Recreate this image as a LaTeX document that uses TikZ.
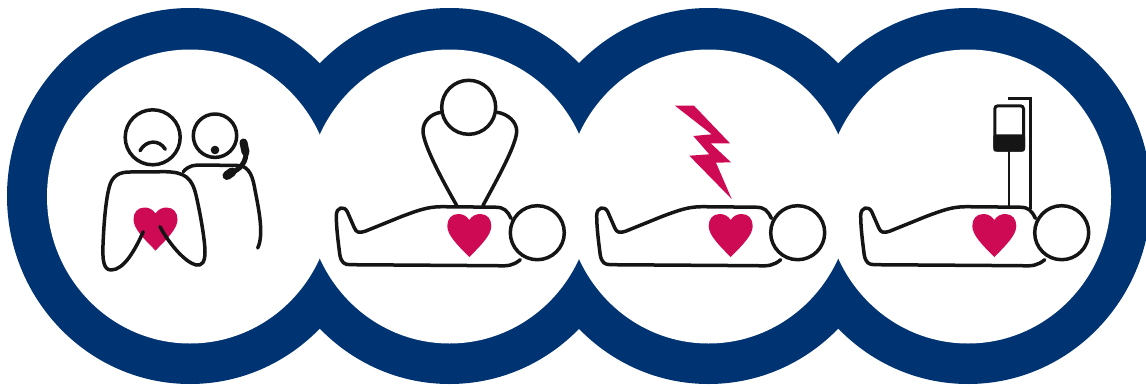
\documentclass[tikz,border=0pt]{standalone}
\definecolor{ringblue}{HTML}{003372}
\definecolor{heartred}{HTML}{CF0A55}
\definecolor{ink}{HTML}{151515}
\tikzset{
  figline/.style={draw=ink,line width=3.5pt,line cap=round,line join=round},
  headfill/.style={figline,fill=white},
  heartshape/.pic={
    \fill[heartred] (0,6) .. controls (3,1.5) and (7,0) .. (11,0)
      .. controls (18,0) and (22,5) .. (22,12)
      .. controls (22,21) and (12,31) .. (0,43)
      .. controls (-12,31) and (-22,21) .. (-22,12)
      .. controls (-22,5) and (-18,0) .. (-11,0)
      .. controls (-7,0) and (-3,1.5) .. (0,6) -- cycle;
  },
  lyingfigure/.pic={
    \draw[figline] (-26.3,-14.3) .. controls (-30,-22) and (-33,-25.5) .. (-42,-25.5)
      -- (-95.7,-26) .. controls (-110,-26) and (-120,-22) .. (-135,-16.5)
      -- (-172,-1.5) .. controls (-178,0.5) and (-181,0) .. (-183,-5)
      -- (-190,-21) .. controls (-193,-27) and (-201,-26) .. (-201,-17)
      .. controls (-201,-5) and (-199,10) .. (-197.5,22)
      .. controls (-196,30) and (-193,32) .. (-187,32)
      -- (-40,33) .. controls (-30,33.5) and (-24,33) .. (-17,27);
    \draw[headfill] (0,0) circle[radius=27];
  }
}
\begin{document}
\begin{tikzpicture}[x=1pt,y=-1pt]
\useasboundingbox (0,0) rectangle (1146,386);
\clip (0,0) rectangle (1146,386);
% rings
\foreach \cx in {190,449.5,708.5,968}
  \fill[ringblue] (\cx,196) ellipse[x radius=183,y radius=188];
\foreach \cx in {190,449.5,708.5,968}
  \fill[white] (\cx,196.5) ellipse[x radius=143,y radius=147];
% hearts
\pic at (155.5,207.5) {heartshape};
\pic at (469.3,214) {heartshape};
\pic at (730.7,214) {heartshape};
\pic at (994.3,214) {heartshape};
% panel 1: bystander and caller
\draw[figline] (152.7,137.3) circle[radius=27.5];
\draw[figline] (140,150.7) .. controls (146,140) and (159,139) .. (165.3,149.3);
\draw[figline] (215,135.7) circle[radius=21.7];
\fill[ink] (215,150) circle[radius=4.3];
\draw[figline] (183.3,171.7) .. controls (189,165) and (195,165) .. (202,165)
  -- (238,165.5) .. controls (250,166) and (253,178) .. (255,190)
  .. controls (259,210) and (264,235) .. (257.7,248);
\draw[figline] (143.3,231.7) .. controls (135,250) and (124,270) .. (111,270)
  .. controls (103,270) and (102.5,258) .. (103,245)
  .. controls (104,220) and (106,200) .. (109,188)
  .. controls (112,175) and (120,172) .. (130,172)
  -- (165,171.7) .. controls (185,172) and (192,178) .. (196,195)
  .. controls (200,212) and (205,240) .. (205,252)
  .. controls (205,262) and (202,266) .. (196,265)
  .. controls (185,262) and (170,245) .. (160,226.7);
% handset
\draw[ink,line width=8pt,line cap=round] (243.5,142.5) -- (245.5,152);
\draw[ink,line width=5pt] (246,150) .. controls (247,162) and (240,170) .. (230,173);
\draw[ink,line width=9pt,line cap=round] (227,175.5) -- (232,172);
% panel 2: compressions
\pic at (537.3,232.7) {lyingfigure};
\draw[figline] (440.7,112.3) .. controls (430,114) and (423,122) .. (423,131)
  .. controls (423,145) and (445,185) .. (456.7,205.5);
\draw[figline] (497.3,112.3) .. controls (508,114) and (516.7,122) .. (516.7,131)
  .. controls (516.7,145) and (495,183) .. (483,205.5);
\draw[headfill] (468.7,107.3) circle[radius=27];
% panel 3: shock
\pic at (797.7,232.7) {lyingfigure};
\fill[heartred] (675,105.7) -- (694,105.7) -- (730,143.3) -- (710.7,143.3)
  -- (731,162.3) -- (716,162.7) -- (731.7,199) -- (689.3,155.7) -- (709.3,154.3)
  -- (693.3,136) -- (711.7,134.3) -- cycle;
% panel 4: infusion
\pic at (1061.7,232.7) {lyingfigure};
\draw[ink,line width=2pt] (1009,151) -- (1009,207);
\draw[ink,line width=3pt] (1008.3,98.8) -- (1030.3,98.8) -- (1030.3,209);
\draw[ink,line width=3pt,rounded corners=3pt,fill=white] (994.8,105.8) rectangle (1023.5,150.2);
\fill[ink,rounded corners=2.5pt] (993.3,151.7) -- (993.3,134.3) -- (1025,134.3) -- (1025,151.7) -- cycle;
\end{tikzpicture}
\end{document}
